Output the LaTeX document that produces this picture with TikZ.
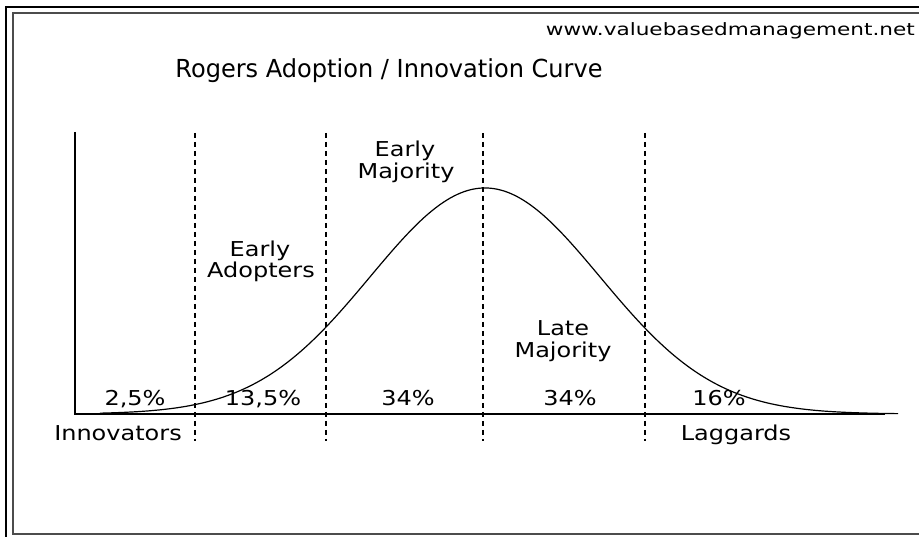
\documentclass[tikz,border=0pt]{standalone}
\usepackage{fontspec}
\newfontfamily\lblfont[FakeStretch=1.17]{DejaVu Sans}
\newfontfamily\titlefont[FakeStretch=0.97]{DejaVu Sans}
\newfontfamily\urlfont[FakeStretch=1.27]{DejaVu Sans}
\begin{document}
\begin{tikzpicture}[x=1pt,y=-1pt,
  lbl/.style={font=\lblfont\fontsize{20.5}{22}\selectfont, inner sep=0pt, anchor=base},
  divider/.style={line width=1.4pt, dash pattern=on 5pt off 4pt},
  axisline/.style={line width=1.5pt},
  bellcurve/.style={line width=1.2pt}]
\useasboundingbox (0,0) rectangle (919,537);
\fill[white] (0,0) rectangle (919,537);
% frame
\draw[line width=2.6pt, black] (6,545) -- (6,7) -- (930,7);
\draw[line width=2pt, black!70] (13,534) -- (13,13) -- (930,13);
\draw[line width=2pt, black!70] (12,534) -- (930,534);
% texts
\node[inner sep=0pt, anchor=base east, font=\urlfont\fontsize{17}{19}\selectfont] (url) at (915,36) {www.valuebasedmanagement.net};
\node[inner sep=0pt, anchor=base, font=\titlefont\fontsize{24.8}{28}\selectfont] (title) at (389,78) {Rogers Adoption / Innovation Curve};
% axes
\coordinate (ytop) at (75,132);
\coordinate (origin) at (75,414);
\coordinate (xend) at (885,414);
\draw[axisline] (ytop) -- (origin) -- (xend);
% dividers
\foreach \n/\xx in {d1/195, d2/326, d3/483, d4/645} {
  \coordinate (\n t) at (\xx,133);
  \coordinate (\n b) at (\xx,441);
  \draw[divider] (\n t) -- (\n b);
}
% curve
\draw[bellcurve] plot[domain=100:898, samples=240] (\x, {414 - 226*exp(-((\x-485)/115)^2/2)});
% labels
\node[lbl] (ea1) at (260,257) {Early};
\node[lbl] (ea2) at (261,278) {Adopters};
\node[lbl] (em1) at (405,157) {Early};
\node[lbl] (em2) at (406,179) {Majority};
\node[lbl] (lm1) at (563,336) {Late};
\node[lbl] (lm2) at (563,358) {Majority};
\node[lbl] (p1) at (135,406) {2,5\%};
\node[lbl] (p2) at (263,406) {13,5\%};
\node[lbl] (p3) at (408,406) {34\%};
\node[lbl] (p4) at (570,406) {34\%};
\node[lbl] (p5) at (719,406) {16\%};
\node[lbl] (inn) at (118,440) {Innovators};
\node[lbl] (lag) at (736,440) {Laggards};
\end{tikzpicture}
\end{document}
